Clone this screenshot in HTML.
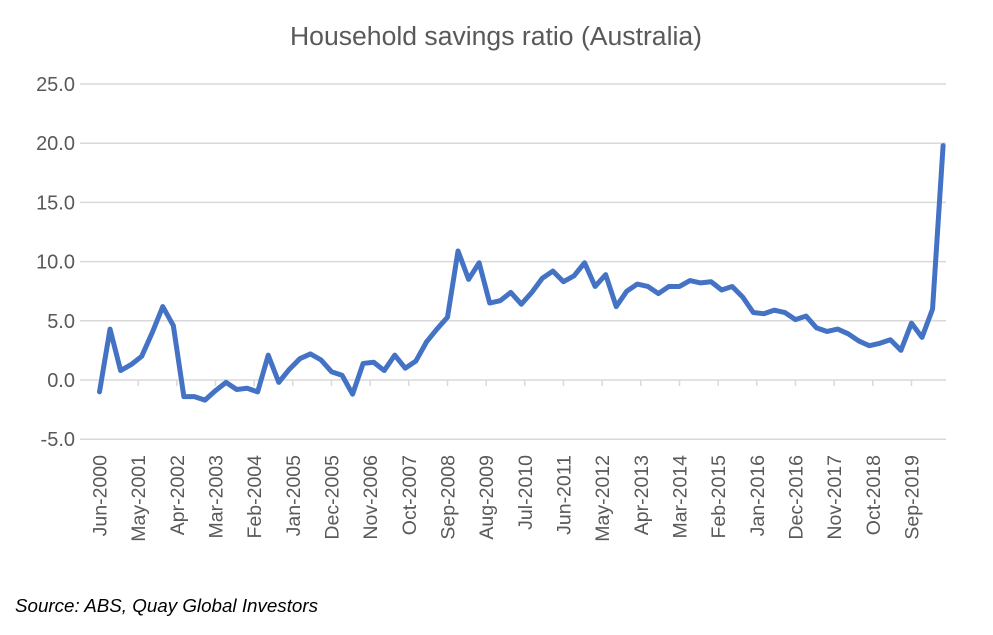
<!DOCTYPE html>
<html><head><meta charset="utf-8"><style>
body{margin:0;background:#fff;width:993px;height:630px;overflow:hidden;font-family:"Liberation Sans",sans-serif}
</style></head><body>
<svg id="chart" width="993" height="630" xmlns="http://www.w3.org/2000/svg">
<text x="496" y="45" text-anchor="middle" font-family="Liberation Sans, sans-serif" font-size="25.5" fill="#595959" textLength="412" lengthAdjust="spacingAndGlyphs">Household savings ratio (Australia)</text>
<g id="grid"></g><g id="yaxis"></g><g id="xaxis"></g><g id="series"></g>
<text x="15" y="612" font-family="Liberation Sans, sans-serif" font-style="italic" font-size="18.5" fill="#000" textLength="303" lengthAdjust="spacingAndGlyphs">Source: ABS, Quay Global Investors</text>
</svg>
<script>
const values=[-1.0,4.3,0.8,1.3,2.0,4.0,6.2,4.6,-1.4,-1.4,-1.7,-0.9,-0.2,-0.8,-0.7,-1.0,2.1,-0.2,0.9,1.8,2.2,1.7,0.7,0.4,-1.2,1.4,1.5,0.8,2.1,1.0,1.6,3.2,4.3,5.3,10.9,8.5,9.9,6.5,6.7,7.4,6.4,7.4,8.6,9.2,8.3,8.8,9.9,7.9,8.9,6.2,7.5,8.1,7.9,7.3,7.9,7.9,8.4,8.2,8.3,7.6,7.9,7.0,5.7,5.6,5.9,5.7,5.1,5.4,4.4,4.1,4.3,3.9,3.3,2.9,3.1,3.4,2.5,4.8,3.6,6.0,19.8];
const yTicks=[-5,0,5,10,15,20,25];
const xLabels=["Jun-2000","May-2001","Apr-2002","Mar-2003","Feb-2004","Jan-2005","Dec-2005","Nov-2006","Oct-2007","Sep-2008","Aug-2009","Jul-2010","Jun-2011","May-2012","Apr-2013","Mar-2014","Feb-2015","Jan-2016","Dec-2016","Nov-2017","Oct-2018","Sep-2019"];
const NS="http://www.w3.org/2000/svg";
const x0=99.5,pxPerMonth=3.515;
const xq=i=>x0+i*3*pxPerMonth;
const xm=m=>x0+m*pxPerMonth;
const y=v=>380-v*11.84;
function mk(tag,attrs,parent){const e=document.createElementNS(NS,tag);for(const k in attrs)e.setAttribute(k,attrs[k]);document.getElementById(parent).appendChild(e);return e;}
yTicks.forEach(t=>{
  if(t!==0){const g=mk('line',{x1:80,x2:946,y1:y(t),y2:y(t),stroke:'#d9d9d9','stroke-width':1.5},'grid');
  
  }
  const l=mk('text',{x:75,y:y(t)+7,'text-anchor':'end','font-size':20,fill:'#595959','font-family':'Liberation Sans, sans-serif'},'yaxis');
  l.textContent=t.toFixed(1);
  
  
});
const ax=mk('line',{x1:80,x2:946,y1:y(0),y2:y(0),stroke:'#d9d9d9','stroke-width':1.5},'xaxis');


xLabels.forEach((s,i)=>{
  const xx=xm(i*11);
  const tk=mk('line',{x1:xx,x2:xx,y1:y(0),y2:y(0)+6,stroke:'#d9d9d9','stroke-width':1.5},'xaxis');
  
  
  const t=mk('text',{x:0,y:0,'text-anchor':'end','font-size':19.5,fill:'#595959','font-family':'Liberation Sans, sans-serif',transform:`translate(${xx+7},${455}) rotate(-90)`},'xaxis');
  t.textContent=s;
  
  
});
const p=mk('polyline',{points:values.map((v,i)=>xq(i)+','+y(v)).join(' '),fill:'none',stroke:'#4472c4','stroke-width':5,'stroke-linejoin':'round','stroke-linecap':'round'},'series');


</script>
</body></html>
